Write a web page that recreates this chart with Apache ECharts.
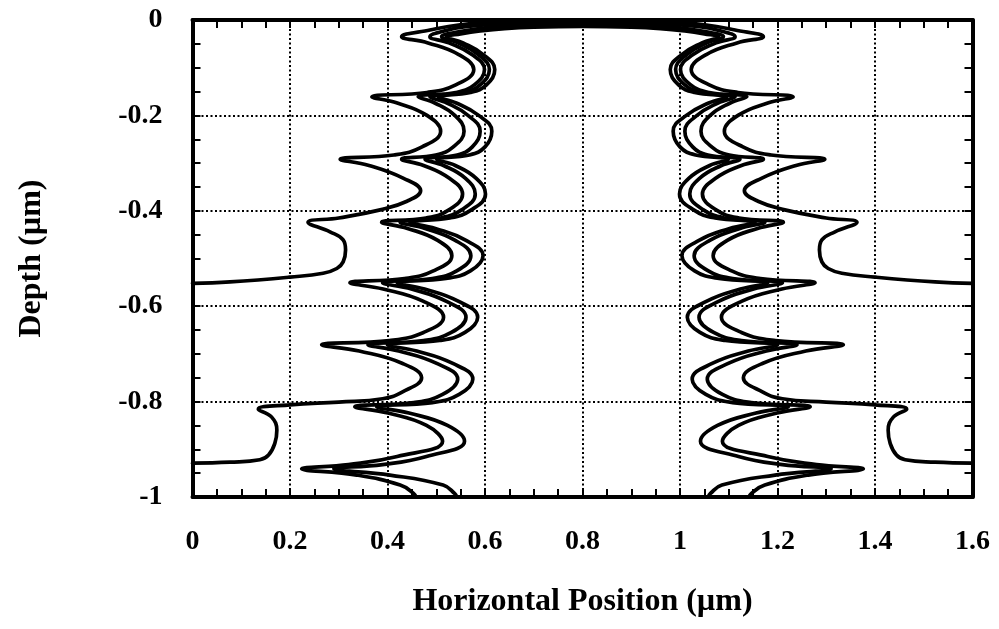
<!DOCTYPE html>
<html>
<head>
<meta charset="utf-8">
<script src="https://cdn.jsdelivr.net/npm/echarts@6/dist/echarts.min.js"></script>
<style>
html,body{margin:0;padding:0;background:#fff;}
#chart{width:999px;height:629px;}
</style>
</head>
<body>
<div id="chart"></div>
<script>
// Axis ticks
const xTicks = [0, 0.2, 0.4, 0.6, 0.8, 1, 1.2, 1.4, 1.6];
const yTicks = [-1, -0.8, -0.6, -0.4, -0.2, 0];
const xTitle = 'Horizontal Position (\u00b5m)';
const yTitle = 'Depth (\u00b5m)';

// Profile 1 (earliest), left wall from surface down, right wall from surface down
const p1Left = [[0.80,-0.003],[0.70,-0.003],[0.62,-0.005],[0.549,-0.010],[0.487,-0.021],[0.429,-0.035],
[0.483,-0.048],[0.547,-0.073],[0.577,-0.104],[0.540,-0.136],[0.481,-0.152],[0.368,-0.161],
[0.420,-0.174],[0.481,-0.200],[0.509,-0.233],[0.471,-0.266],[0.413,-0.283],[0.303,-0.292],
[0.362,-0.305],[0.433,-0.332],[0.468,-0.358],[0.440,-0.380],[0.385,-0.398],[0.300,-0.415],[0.237,-0.424],
[0.282,-0.444],[0.309,-0.461],[0.314,-0.482],[0.309,-0.507],[0.296,-0.521],[0.268,-0.531],[0.200,-0.539],[0.077,-0.549],[0.0,-0.552]];
const p1Right = [[0.90,-0.003],[0.98,-0.005],[1.051,-0.010],[1.113,-0.021],[1.171,-0.035],
[1.117,-0.048],[1.053,-0.073],[1.023,-0.104],[1.060,-0.136],[1.119,-0.152],[1.232,-0.161],
[1.180,-0.174],[1.119,-0.200],[1.091,-0.233],[1.129,-0.266],[1.187,-0.283],[1.297,-0.292],
[1.238,-0.305],[1.167,-0.332],[1.132,-0.358],[1.160,-0.380],[1.215,-0.398],[1.300,-0.415],[1.363,-0.424],
[1.318,-0.444],[1.291,-0.461],[1.286,-0.482],[1.291,-0.507],[1.304,-0.521],[1.332,-0.531],[1.400,-0.539],[1.523,-0.549],[1.6,-0.552]];

// Profile 2
const p2Left = [[0.80,-0.0065],[0.70,-0.007],[0.62,-0.009],[0.56,-0.014],[0.52,-0.022],[0.487,-0.035],
[0.526,-0.048],[0.574,-0.073],[0.599,-0.104],[0.578,-0.136],[0.540,-0.152],[0.463,-0.161],
[0.497,-0.174],[0.538,-0.200],[0.557,-0.233],[0.535,-0.266],[0.499,-0.283],[0.429,-0.292],
[0.474,-0.305],[0.527,-0.332],[0.554,-0.365],[0.526,-0.398],[0.479,-0.415],[0.388,-0.424],
[0.441,-0.437],[0.503,-0.462],[0.532,-0.494],[0.494,-0.526],[0.435,-0.542],[0.323,-0.551],
[0.391,-0.564],[0.474,-0.590],[0.515,-0.623],[0.474,-0.655],[0.404,-0.672],[0.265,-0.681],
[0.342,-0.694],[0.431,-0.720],[0.470,-0.750],[0.430,-0.780],[0.390,-0.794],[0.300,-0.801],[0.200,-0.807],[0.135,-0.816],
[0.162,-0.832],[0.173,-0.860],[0.169,-0.887],[0.156,-0.912],[0.138,-0.922],[0.077,-0.927],[0.0,-0.929]];
const p2Right = [[0.90,-0.007],[0.98,-0.009],[1.04,-0.014],[1.08,-0.022],[1.113,-0.035],
[1.074,-0.048],[1.026,-0.073],[1.001,-0.104],[1.022,-0.136],[1.060,-0.152],[1.137,-0.161],
[1.103,-0.174],[1.062,-0.200],[1.043,-0.233],[1.065,-0.266],[1.101,-0.283],[1.171,-0.292],
[1.126,-0.305],[1.073,-0.332],[1.046,-0.365],[1.074,-0.398],[1.121,-0.415],[1.212,-0.424],
[1.159,-0.437],[1.097,-0.462],[1.068,-0.494],[1.106,-0.526],[1.165,-0.542],[1.277,-0.551],
[1.209,-0.564],[1.126,-0.590],[1.085,-0.623],[1.126,-0.655],[1.196,-0.672],[1.335,-0.681],
[1.258,-0.694],[1.169,-0.720],[1.130,-0.750],[1.170,-0.780],[1.210,-0.794],[1.300,-0.801],[1.400,-0.807],[1.465,-0.816],
[1.438,-0.832],[1.427,-0.860],[1.431,-0.887],[1.444,-0.912],[1.462,-0.922],[1.523,-0.927],[1.6,-0.929]];

// Profile 3
const p3Left = [[0.80,-0.010],[0.70,-0.011],[0.63,-0.014],[0.58,-0.019],[0.54,-0.026],[0.511,-0.035],
[0.545,-0.048],[0.587,-0.073],[0.609,-0.104],[0.590,-0.136],[0.555,-0.152],[0.487,-0.161],
[0.522,-0.174],[0.565,-0.200],[0.590,-0.233],[0.574,-0.266],[0.543,-0.283],[0.477,-0.292],
[0.515,-0.305],[0.560,-0.332],[0.580,-0.365],[0.552,-0.398],[0.508,-0.415],[0.426,-0.424],
[0.477,-0.437],[0.539,-0.462],[0.571,-0.494],[0.542,-0.526],[0.492,-0.542],[0.390,-0.551],
[0.449,-0.564],[0.521,-0.590],[0.561,-0.623],[0.531,-0.655],[0.474,-0.672],[0.360,-0.681],
[0.423,-0.694],[0.501,-0.720],[0.544,-0.753],[0.513,-0.785],[0.454,-0.802],[0.333,-0.811],
[0.401,-0.824],[0.480,-0.850],[0.513,-0.883],[0.420,-0.915],[0.320,-0.932],[0.224,-0.941],
[0.337,-0.954],[0.426,-0.975],[0.453,-0.992],[0.459,-1.0]];
const p3Right = [[0.90,-0.011],[0.97,-0.014],[1.02,-0.019],[1.06,-0.026],[1.089,-0.035],
[1.055,-0.048],[1.013,-0.073],[0.991,-0.104],[1.010,-0.136],[1.045,-0.152],[1.113,-0.161],
[1.078,-0.174],[1.035,-0.200],[1.010,-0.233],[1.026,-0.266],[1.057,-0.283],[1.123,-0.292],
[1.085,-0.305],[1.040,-0.332],[1.020,-0.365],[1.048,-0.398],[1.092,-0.415],[1.174,-0.424],
[1.123,-0.437],[1.061,-0.462],[1.029,-0.494],[1.058,-0.526],[1.108,-0.542],[1.210,-0.551],
[1.151,-0.564],[1.079,-0.590],[1.039,-0.623],[1.069,-0.655],[1.126,-0.672],[1.240,-0.681],
[1.177,-0.694],[1.099,-0.720],[1.056,-0.753],[1.087,-0.785],[1.146,-0.802],[1.267,-0.811],
[1.199,-0.824],[1.120,-0.850],[1.087,-0.883],[1.180,-0.915],[1.280,-0.932],[1.376,-0.941],
[1.263,-0.954],[1.174,-0.975],[1.147,-0.992],[1.141,-1.0]];

// Profile 4 (latest)
const p4Left = [[0.80,-0.0135],[0.70,-0.015],[0.64,-0.018],[0.59,-0.023],[0.55,-0.029],[0.521,-0.035],
[0.555,-0.048],[0.597,-0.073],[0.620,-0.104],[0.603,-0.136],[0.570,-0.152],[0.504,-0.161],
[0.541,-0.174],[0.587,-0.200],[0.614,-0.233],[0.600,-0.266],[0.568,-0.283],[0.501,-0.292],
[0.539,-0.305],[0.582,-0.332],[0.601,-0.365],[0.572,-0.398],[0.528,-0.415],[0.446,-0.424],
[0.498,-0.437],[0.561,-0.462],[0.596,-0.494],[0.570,-0.526],[0.520,-0.542],[0.420,-0.551],
[0.476,-0.564],[0.546,-0.590],[0.585,-0.623],[0.559,-0.655],[0.507,-0.672],[0.400,-0.681],
[0.460,-0.694],[0.534,-0.720],[0.575,-0.753],[0.547,-0.785],[0.492,-0.802],[0.378,-0.811],
[0.444,-0.824],[0.523,-0.850],[0.558,-0.883],[0.480,-0.915],[0.390,-0.932],[0.290,-0.941],
[0.405,-0.954],[0.514,-0.975],[0.538,-0.993],[0.542,-1.0]];
const p4Right = [[0.90,-0.015],[0.96,-0.018],[1.01,-0.023],[1.05,-0.029],[1.079,-0.035],
[1.045,-0.048],[1.003,-0.073],[0.980,-0.104],[0.997,-0.136],[1.030,-0.152],[1.096,-0.161],
[1.059,-0.174],[1.013,-0.200],[0.986,-0.233],[1.000,-0.266],[1.032,-0.283],[1.099,-0.292],
[1.061,-0.305],[1.018,-0.332],[0.999,-0.365],[1.028,-0.398],[1.072,-0.415],[1.154,-0.424],
[1.102,-0.437],[1.039,-0.462],[1.004,-0.494],[1.030,-0.526],[1.080,-0.542],[1.180,-0.551],
[1.124,-0.564],[1.054,-0.590],[1.015,-0.623],[1.041,-0.655],[1.093,-0.672],[1.200,-0.681],
[1.140,-0.694],[1.066,-0.720],[1.025,-0.753],[1.053,-0.785],[1.108,-0.802],[1.222,-0.811],
[1.156,-0.824],[1.077,-0.850],[1.042,-0.883],[1.120,-0.915],[1.210,-0.932],[1.310,-0.941],
[1.195,-0.954],[1.086,-0.975],[1.062,-0.993],[1.058,-1.0]];

const profiles = [[p1Left, p1Right], [p2Left, p2Right], [p3Left, p3Right], [p4Left, p4Right]];

const FONT = '"Liberation Serif", "Times New Roman", serif';
const fmt = v => String(Math.round(v * 10) / 10);

// Join the two walls into one profile; the notch tips (points farthest from the
// centre line compared with both neighbours) are repeated so the smoothed line keeps them sharp.
function buildProfile(left, right) {
  const pts = left.slice().reverse().concat(right);
  const out = [];
  for (let i = 0; i < pts.length; i++) {
    out.push(pts[i]);
    if (i > 0 && i < pts.length - 1) {
      const d = Math.abs(pts[i][0] - 0.8);
      if (d > Math.abs(pts[i - 1][0] - 0.8) && d > Math.abs(pts[i + 1][0] - 0.8)) out.push(pts[i]);
    }
  }
  return out;
}

const chart = echarts.init(document.getElementById('chart'), null, {renderer: 'canvas'});

function baseAxis(extra) {
  return Object.assign({
    type: 'value',
    axisLine: {show: true, onZero: false, lineStyle: {color: '#000', width: 4}},
    axisTick: {show: true, inside: true, length: 8, lineStyle: {color: '#000', width: 2}},
    minorTick: {show: true, splitNumber: 4, length: 8, lineStyle: {color: '#000', width: 2}},
    splitLine: {show: false},
    minorSplitLine: {show: false}
  }, extra);
}

const labelStyle = {color: '#000', fontFamily: FONT, fontWeight: 'bold', fontSize: 28};
const nameStyle = {color: '#000', fontFamily: FONT, fontWeight: 'bold', fontSize: 32};
const gridDots = {show: true, lineStyle: {color: '#000', width: 2, type: [2, 2.5]}};

const option = {
  backgroundColor: '#fff',
  animation: false,
  grid: {left: 192.5, right: 26.5, top: 20, bottom: 132, containLabel: false},
  xAxis: [
    baseAxis({
      position: 'bottom', min: xTicks[0], max: xTicks[xTicks.length - 1], interval: 0.2,
      axisLabel: Object.assign({show: true, formatter: fmt, margin: 31}, labelStyle),
      splitLine: gridDots,
      name: xTitle, nameLocation: 'middle', nameGap: 89,
      nameTextStyle: nameStyle
    }),
    baseAxis({
      position: 'top', min: xTicks[0], max: xTicks[xTicks.length - 1], interval: 0.2,
      axisLabel: {show: false}
    })
  ],
  yAxis: [
    baseAxis({
      position: 'left', min: yTicks[0], max: yTicks[yTicks.length - 1], interval: 0.2,
      axisLabel: Object.assign({show: true, formatter: fmt, margin: 30}, labelStyle),
      splitLine: gridDots,
      name: yTitle, nameLocation: 'middle', nameGap: 145,
      nameTextStyle: nameStyle
    }),
    baseAxis({
      position: 'right', min: yTicks[0], max: yTicks[yTicks.length - 1], interval: 0.2,
      axisLabel: {show: false}
    })
  ],
  series: profiles.map((p, i) => ({
    type: 'line',
    name: 'profile ' + (i + 1),
    xAxisIndex: 0, yAxisIndex: 0,
    data: buildProfile(p[0], p[1]),
    showSymbol: false,
    symbol: 'none',
    smooth: 0.45,
    lineStyle: {color: '#000', width: 3.7, join: 'round', cap: 'round'},
    z: 3
  }))
};

chart.setOption(option);
</script>
</body>
</html>
